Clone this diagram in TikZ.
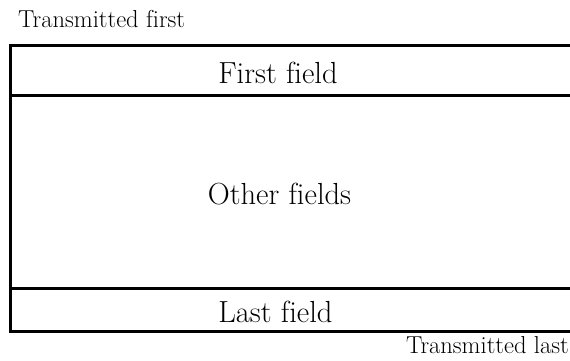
\documentclass[tikz,border=0pt]{standalone}
\newcommand{\nofi}{f\kern0pt i}
\begin{document}
\begin{tikzpicture}[x=1pt,y=1pt,
  rule/.style={line width=3pt,line join=miter},
  fieldlabel/.style={inner sep=0pt,anchor=base,font=\fontsize{30.5}{34}\selectfont},
  sidelabel/.style={inner sep=0pt,font=\fontsize{24.5}{28}\selectfont}]
\useasboundingbox (0,0) rectangle (570,360);
\coordinate (tr) at (570,315);
\coordinate (tl) at (10.5,315);
\coordinate (bl) at (10.5,29);
\coordinate (br) at (570,29);
\coordinate (s1l) at (10.5,265);
\coordinate (s1r) at (570,265);
\coordinate (s2l) at (10.5,72);
\coordinate (s2r) at (570,72);
\draw[rule] (tr) -- (tl) -- (bl) -- (br);
\draw[rule] (s1l) -- (s1r);
\draw[rule] (s2l) -- (s2r);
\node[fieldlabel] (first) at (278,277) {First \nofi eld};
\node[fieldlabel] (other) at (279.5,156) {Other \nofi elds};
\node[fieldlabel] (last) at (275.5,38) {Last \nofi eld};
\node[sidelabel,anchor=base west] (tfirst) at (18,333) {Transmitted \nofi rst};
\node[sidelabel,anchor=base east] (tlast) at (569,7) {Transmitted last};
\end{tikzpicture}
\end{document}
